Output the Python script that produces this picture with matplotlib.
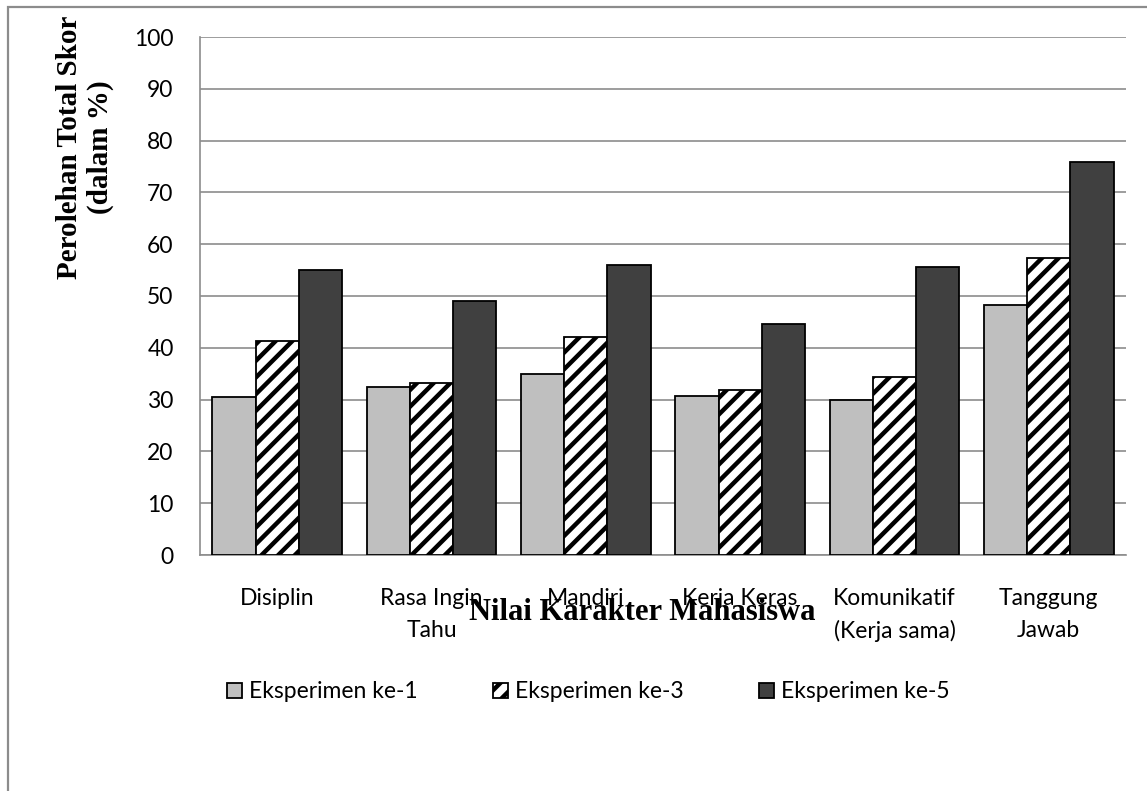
import matplotlib
matplotlib.use("Agg")
import matplotlib.pyplot as plt
from matplotlib.patches import Patch, Rectangle
import numpy as np

# data
kategori = ["Disiplin", "Rasa Ingin\nTahu", "Mandiri", "Kerja Keras",
            "Komunikatif\n(Kerja sama)", "Tanggung\nJawab"]
eksperimen_1 = [30.5, 32.4, 34.9, 30.7, 29.9, 48.3]
eksperimen_3 = [41.3, 33.3, 42.0, 31.8, 34.3, 57.3]
eksperimen_5 = [55.1, 49.0, 55.9, 44.6, 55.6, 75.9]
seri_label = ["Eksperimen ke-1", "Eksperimen ke-3", "Eksperimen ke-5"]
y_ticks = [0, 10, 20, 30, 40, 50, 60, 70, 80, 90, 100]

plt.rcParams['hatch.linewidth'] = 3.2
sans = ['Lato', 'DejaVu Sans']
serif = ['Liberation Serif', 'DejaVu Serif']

W, H = 1147, 791
fig = plt.figure(figsize=(W / 100, H / 100), dpi=100)
fig.patch.set_facecolor('white')

# bingkai luar (abu-abu)
fig.add_artist(Rectangle((8 / W, -0.05), 1.1, 1 + 0.05 - 7 / H,
                         transform=fig.transFigure, fill=False,
                         edgecolor='#8c8c8c', linewidth=1.6, clip_on=False))

ax = fig.add_axes([200 / W, 1 - 555 / H, 926 / W, 518 / H])

x = np.arange(len(kategori))
w = 0.28
style = dict(edgecolor='black', linewidth=1.3, zorder=3)
ax.bar(x - w, eksperimen_1, w, color='#bfbfbf', label=seri_label[0], **style)
ax.bar(x, eksperimen_3, w, color='white', hatch='//', label=seri_label[1], **style)
ax.bar(x + w, eksperimen_5, w, color='#404040', label=seri_label[2], **style)

ax.set_xlim(-0.5, len(kategori) - 0.5)
ax.set_ylim(0, 100)
ax.set_yticks(y_ticks)
ax.yaxis.grid(True, color='#8c8c8c', linewidth=1.2, zorder=0)
ax.set_axisbelow(True)

for s in ['top', 'right']:
    ax.spines[s].set_visible(False)
for s in ['left', 'bottom']:
    ax.spines[s].set_color('#8c8c8c')
    ax.spines[s].set_linewidth(1.2)

ax.set_xticks(x)
ax.set_xticklabels(kategori, family=sans, fontsize=16.5, linespacing=1.6)
ax.tick_params(axis='x', length=0, pad=24)
ax.tick_params(axis='y', length=0, pad=19, labelsize=16.5)
for lbl in ax.get_yticklabels():
    lbl.set_family(sans)

# judul sumbu
fig.text(642 / W, 1 - 613 / H, "Nilai Karakter Mahasiswa", family=serif,
         fontweight='bold', fontsize=22, ha='center', va='center')
fig.text(85 / W, 1 - 147 / H, "Perolehan Total Skor\n(dalam %)", family=serif,
         fontweight='bold', fontsize=21, ha='center', va='center',
         rotation=90, linespacing=1.15)

handles = [Patch(facecolor='#bfbfbf', edgecolor='black', linewidth=1.3),
           Patch(facecolor='white', edgecolor='black', hatch='//', linewidth=1.3),
           Patch(facecolor='#404040', edgecolor='black', linewidth=1.3)]
fig.legend(handles, seri_label, loc='center', ncol=3,
           bbox_to_anchor=(588 / W, 1 - 692 / H), frameon=False,
           prop={'family': sans, 'size': 16.5}, handlelength=0.65,
           handleheight=0.65, handletextpad=0.3, columnspacing=3.3)

fig.savefig('out.png', dpi=100)
